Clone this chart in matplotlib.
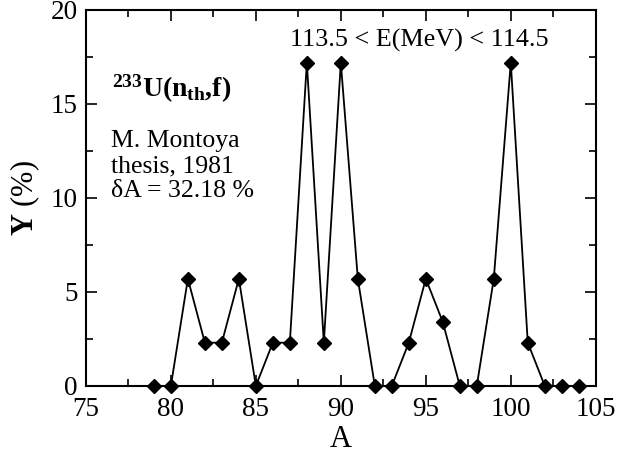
import numpy as np
import matplotlib
matplotlib.use('Agg')
import matplotlib.pyplot as plt
from matplotlib.ticker import MultipleLocator

plt.rcParams['font.family'] = ['Liberation Serif', 'DejaVu Serif']
plt.rcParams['mathtext.fontset'] = 'custom'
plt.rcParams['mathtext.rm'] = 'Liberation Serif'
plt.rcParams['mathtext.bf'] = 'Liberation Serif:bold'

mass = [79, 80, 81, 82, 83, 84, 85, 86, 87, 88, 89, 90, 91, 92,
        93, 94, 95, 96, 97, 98, 99, 100, 101, 102, 103, 104]
yields = [0, 0, 5.7, 2.3, 2.3, 5.7, 0, 2.3, 2.3, 17.2, 2.3, 17.2, 5.7, 0,
          0, 2.3, 5.7, 3.4, 0, 0, 5.7, 17.2, 2.3, 0, 0, 0]
info_lines = ['M. Montoya', 'thesis, 1981', 'δA = 32.18 %']

fig = plt.figure(figsize=(6.18, 4.54), dpi=100)
ax = fig.add_axes([0.139, 0.150, 0.825, 0.828])
ax.plot(mass, yields, color='black', lw=1.3, marker='D', ms=7.5, clip_on=False, zorder=3)

ax.set_xlim(75, 105)
ax.set_ylim(0, 20)
ax.xaxis.set_major_locator(MultipleLocator(5))
ax.xaxis.set_minor_locator(MultipleLocator(2.5))
ax.yaxis.set_major_locator(MultipleLocator(5))
ax.yaxis.set_minor_locator(MultipleLocator(2.5))
ax.tick_params(which='both', direction='in', top=True, right=True, labelsize=19.5, width=1.2)
ax.tick_params(which='major', length=8)
ax.tick_params(which='minor', length=5)
ax.tick_params(axis='x', which='major', pad=8)
ax.tick_params(axis='y', which='major', pad=6)
for s in ax.spines.values():
    s.set_linewidth(1.5)

ax.set_xlabel('A', fontsize=22, labelpad=2)
ax.set_ylabel(r'$\mathbf{Y}$ (%)', fontsize=22, labelpad=6)

ax.text(0.051, 0.769, r'$\mathbf{^{233}U(n_{th}{,}f)}$', transform=ax.transAxes, fontsize=20,
        va='baseline')
for line, yb in zip(info_lines, [0.636, 0.569, 0.503]):
    ax.text(0.05, yb, line, transform=ax.transAxes, fontsize=18.5, va='baseline')
ax.text(0.653, 0.902, '113.5 < E(MeV) < 114.5', transform=ax.transAxes, fontsize=18.8,
        ha='center', va='baseline')

fig.savefig('out.png', dpi=100)
